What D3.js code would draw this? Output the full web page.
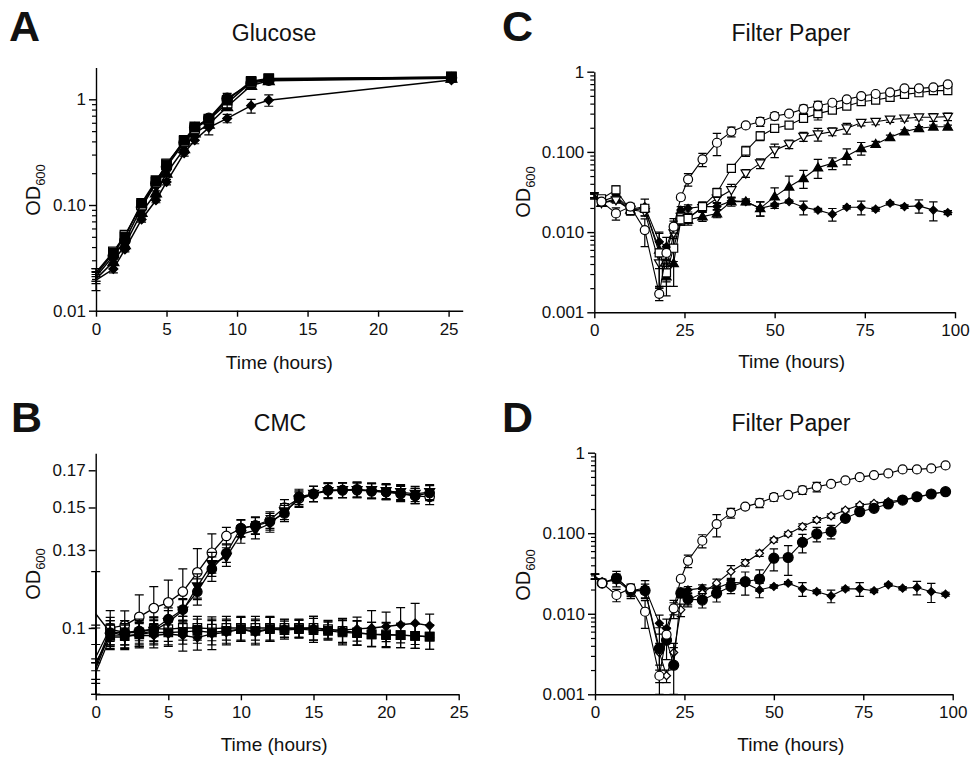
<!DOCTYPE html>
<html><head><meta charset="utf-8">
<script src="https://cdn.jsdelivr.net/npm/d3@7"></script>
<style>
body{margin:0;background:#fff}
svg{display:block}
text{font-family:"Liberation Sans",Arial,Helvetica,sans-serif;fill:#111}
</style>
</head><body>
<svg id="chart" width="971" height="757"></svg>
<script>
// ---------------- DATA ----------------
// Panel A (Glucose)
const timeA = [0, 1.23, 2.05, 3.23, 4.25, 5.0, 6.25, 7.0, 8.0, 9.3, 11.0, 12.25, 25.2];
const glcSqFilled   = [0.022, 0.035, 0.050, 0.104, 0.170, 0.240, 0.410, 0.550, 0.650, 0.980, 1.48, 1.57, 1.62];
const glcSqOpen     = [0.023, 0.036, 0.052, 0.100, 0.165, 0.245, 0.400, 0.530, 0.640, 0.920, 1.45, 1.55, 1.63];
const glcCircFilled = [0.021, 0.033, 0.046, 0.095, 0.160, 0.230, 0.390, 0.540, 0.660, 1.020, 1.42, 1.52, 1.60];
const glcTriFilled  = [0.020, 0.029, 0.042, 0.085, 0.130, 0.200, 0.340, 0.480, 0.580, 0.850, 1.35, 1.50, 1.58];
const glcDiamond    = [0.0195, 0.0248, 0.038, 0.073, 0.111, 0.165, 0.310, 0.410, 0.540, 0.660, 0.87, 0.98, 1.52];
const glcSqFilledErr = [0.003, 0.002, 0.002, 0.005, 0.010, 0.010, 0.020, 0.030, 0.040, 0.160, 0.10, 0.05, 0.05];
const glcDiamondErr  = [0.004, 0.002, 0.002, 0.004, 0.006, 0.010, 0.020, 0.030, 0.080, 0.060, 0.13, 0.12, 0.05];
const glcSmallErr    = [0.002, 0.002, 0.002, 0.004, 0.006, 0.010, 0.020, 0.030, 0.030, 0.050, 0.05, 0.05, 0.05];

// Panel B (CMC)
const timeB = [0,1,2,3,4,5,6,7,8,9,10,11,12,13,14,15,16,17,18,19,20,21,22,23];
const cmcCircOpen   = [0.0906,0.1000,0.1009,0.1038,0.1069,0.1090,0.1130,0.1206,0.1288,0.1363,0.1397,0.1413,0.1438,0.1500,0.1546,0.1570,0.1590,0.1590,0.1590,0.1585,0.1580,0.1570,0.1560,0.1555];
const cmcCircFilled = [0.0871,0.0985,0.0985,0.0990,0.0996,0.1030,0.1064,0.1130,0.1220,0.1287,0.1400,0.1410,0.1430,0.1470,0.1555,0.1570,0.1590,0.1590,0.1595,0.1585,0.1580,0.1575,0.1560,0.1575];
const cmcTriFilled  = [0.0860,0.0970,0.0970,0.0980,0.0990,0.1020,0.1060,0.1150,0.1240,0.1270,0.1370,0.1390,0.1420,0.1480,0.1540,0.1570,0.1585,0.1590,0.1590,0.1590,0.1585,0.1580,0.1570,0.1580];
const cmcDiamond    = [0.1049,0.0985,0.0975,0.0975,0.0975,0.0980,0.0975,0.0968,0.0980,0.0985,0.0996,0.0985,0.0996,0.0998,0.0998,0.1000,0.0993,0.0993,0.0997,0.1000,0.1005,0.1011,0.1016,0.1008];
const cmcSqOpen     = [0.0880,0.0996,0.0985,0.0985,0.0998,0.0996,0.1000,0.1000,0.0998,0.1000,0.1000,0.1000,0.1000,0.1000,0.1000,0.1000,0.0996,0.0990,0.0985,0.0979,0.0979,0.0976,0.0974,0.0971];
const cmcSqFilled   = [0.0890,0.0974,0.0974,0.0979,0.0985,0.0985,0.0987,0.0990,0.0985,0.0990,0.0996,0.0990,0.0996,0.0993,0.0996,0.0993,0.0990,0.0985,0.0983,0.0979,0.0976,0.0976,0.0974,0.0971];
const cmcCircOpenErr = [0.004,0.006,0.005,0.008,0.008,0.0085,0.009,0.010,0.0085,0.004,0.004,0.004,0.004,0.004,0.004,0.004,0.004,0.004,0.004,0.004,0.004,0.004,0.004,0.004];
const cmcGrowErr     = [0.003,0.004,0.004,0.004,0.004,0.004,0.004,0.005,0.005,0.004,0.004,0.004,0.004,0.004,0.004,0.004,0.004,0.004,0.004,0.004,0.004,0.004,0.004,0.004];
const cmcDiamondErr  = [0.016,0.004,0.004,0.004,0.004,0.004,0.005,0.004,0.005,0.004,0.004,0.004,0.004,0.003,0.003,0.004,0.003,0.004,0.004,0.006,0.005,0.006,0.007,0.004];
const cmcFlatErr     = [0.012,0.004,0.004,0.004,0.004,0.004,0.004,0.004,0.004,0.004,0.004,0.004,0.004,0.003,0.003,0.004,0.003,0.004,0.004,0.004,0.004,0.004,0.004,0.004];

// Panels C and D (Filter Paper)
const timeFP = [0,2,6,10,14,18,20,22,24,26,30,34,38,42,46,50,54,58,62,66,70,74,78,82,86,90,94,98];
const fpCircOpen   = [0.029,0.024,0.0171,0.0208,0.0106,0.0017,0.0055,0.0117,0.0272,0.0455,0.0807,0.130,0.179,0.214,0.238,0.280,0.300,0.343,0.377,0.410,0.452,0.497,0.527,0.553,0.620,0.620,0.638,0.695];
const fpSqOpen     = [0.029,0.026,0.0336,0.0186,0.0198,0.0055,0.0031,0.0063,0.0142,0.0148,0.0208,0.031,0.0624,0.1026,0.158,0.197,0.216,0.262,0.300,0.332,0.373,0.423,0.443,0.478,0.521,0.547,0.580,0.580];
const fpTriOpen    = [0.028,0.023,0.025,0.019,0.018,0.0041,0.0034,0.0097,0.0156,0.015,0.020,0.0263,0.0334,0.054,0.072,0.105,0.125,0.155,0.166,0.179,0.197,0.231,0.238,0.254,0.262,0.270,0.270,0.275];
const fpTriFilled  = [0.028,0.023,0.026,0.019,0.0198,0.0060,0.0028,0.0041,0.0142,0.0142,0.0156,0.0171,0.024,0.024,0.0198,0.0277,0.0368,0.047,0.0637,0.072,0.089,0.111,0.125,0.152,0.179,0.197,0.206,0.206];
const fpDiamond    = [0.029,0.024,0.028,0.0193,0.0208,0.0076,0.0066,0.0117,0.0188,0.0198,0.0208,0.0208,0.0245,0.024,0.0198,0.0218,0.024,0.0204,0.0188,0.0167,0.0204,0.0204,0.0193,0.0229,0.0208,0.0212,0.0188,0.0175];
const fpDiaOpen    = [0.029,0.025,0.026,0.019,0.0197,0.0033,0.0017,0.0033,0.0112,0.0149,0.018,0.024,0.0335,0.043,0.0565,0.0825,0.098,0.121,0.146,0.164,0.194,0.224,0.235,0.247,0.258,0.279,0.307,0.328];
const fpCircFilled = [0.029,0.024,0.0276,0.0194,0.0194,0.0037,0.0047,0.0023,0.018,0.0152,0.0148,0.018,0.0218,0.025,0.027,0.049,0.050,0.077,0.098,0.105,0.153,0.185,0.204,0.231,0.258,0.284,0.307,0.328];
const fpCircOpenErr   = [0.002,0.002,0.003,0.002,0.004,0.0003,0.001,0.002,0.002,0.008,0.015,0.040,0.025,0.012,0.030,0.030,0.010,0.040,0.050,0.020,0.020,0.030,0.020,0.020,0.030,0.030,0.030,0.030];
const fpSqOpenErr     = [0.002,0.002,0.004,0.002,0.002,0.002,0.001,0.002,0.002,0.002,0.003,0.004,0.005,0.015,0.020,0.020,0.020,0.020,0.050,0.030,0.030,0.030,0.030,0.030,0.030,0.030,0.030,0.030];
const fpTriOpenErr    = [0.002,0.002,0.002,0.002,0.002,0.002,0.001,0.003,0.002,0.002,0.002,0.003,0.006,0.006,0.010,0.020,0.015,0.020,0.030,0.020,0.030,0.020,0.020,0.020,0.020,0.020,0.030,0.030];
const fpTriFilledErr  = [0.002,0.002,0.002,0.002,0.002,0.004,0.0012,0.002,0.002,0.002,0.002,0.002,0.003,0.002,0.004,0.008,0.013,0.012,0.017,0.012,0.020,0.020,0.010,0.010,0.010,0.010,0.010,0.010];
const fpDiamondErr    = [0.002,0.002,0.003,0.003,0.005,0.002,0.002,0.003,0.002,0.002,0.002,0.002,0.002,0.001,0.004,0.001,0.001,0.004,0.001,0.003,0.001,0.004,0.001,0.001,0.001,0.004,0.005,0.001];
const fpDiaOpenErr    = [0.002,0.002,0.002,0.002,0.002,0.001,0.0003,0.001,0.002,0.002,0.002,0.003,0.006,0.004,0.005,0.005,0.006,0.010,0.010,0.010,0.010,0.010,0.010,0.010,0.010,0.010,0.010,0.010];
const fpCircFilledErr = [0.002,0.002,0.006,0.004,0.004,0.003,0.002,0.0015,0.002,0.003,0.003,0.004,0.004,0.008,0.008,0.015,0.020,0.020,0.020,0.020,0.010,0.010,0.010,0.010,0.010,0.010,0.010,0.010];

// Tick values / labels
const ticksAx = [0,5,10,15,20,25];
const ticksAy = [0.01,0.1,1];
const labelsAy = ["0.01","0.10","1"];
const ticksBx = [0,5,10,15,20,25];
const ticksBy = [0.1,0.13,0.15,0.17];
const labelsBy = ["0.1","0.13","0.15","0.17"];
const ticksFPx = [0,25,50,75,100];
const ticksFPy = [0.001,0.01,0.1,1];
const labelsFPy = ["0.001","0.010","0.100","1"];

// ---------------- DRAWING ----------------
const svg = d3.select("#chart");

function markerPath(shape, s) {
  const h = s / 2;
  switch (shape) {
    case "circle": { const p = d3.path(); p.moveTo(h, 0); p.arc(0, 0, h, 0, 2 * Math.PI); p.closePath(); return p.toString(); }
    case "square": return `M${-h*0.9},${-h*0.9}H${h*0.9}V${h*0.9}H${-h*0.9}Z`;
    case "triUp": return `M0,${-h*1.05}L${h*1.05},${h*0.75}L${-h*1.05},${h*0.75}Z`;
    case "triDown": return `M0,${h*1.05}L${h*1.05},${-h*0.75}L${-h*1.05},${-h*0.75}Z`;
    case "diamond": return `M0,${-h}L${h},0L0,${h}L${-h},0Z`;
  }
}

function panel(cfg) {
  const g = svg.append("g");
  const x = d3.scaleLinear().domain(cfg.xDomain).range([cfg.left, cfg.right]);
  const y = d3.scaleLog().domain(cfg.yDomain).range([cfg.bottom, cfg.top]);

  // axes
  const xAxis = d3.axisBottom(x).tickValues(cfg.xTicks).tickSize(6).tickSizeOuter(0).tickPadding(6).tickFormat(d3.format("d"));
  const gx = g.append("g").attr("transform", `translate(0,${cfg.bottom})`).call(xAxis);
  const yAxis = d3.axisLeft(y).tickValues(cfg.yTicks).tickSize(7).tickSizeOuter(0).tickPadding(3)
      .tickFormat((d, i) => cfg.yLabels[i]);
  const gy = g.append("g").attr("transform", `translate(${cfg.left},0)`).call(yAxis);
  if (cfg.minor) {
    const mins = [];
    const lo = Math.floor(Math.log10(cfg.yDomain[0])), hi = Math.ceil(Math.log10(cfg.yDomain[1]));
    for (let e = lo; e <= hi; e++) for (let m = 2; m <= 9; m++) {
      const v = m * Math.pow(10, e);
      if (v > cfg.yDomain[0] * 1.0001 && v < cfg.yDomain[1] * 0.9999) mins.push(v);
    }
    const gm = g.append("g").attr("transform", `translate(${cfg.left},0)`)
      .call(d3.axisLeft(y).tickValues(mins).tickSize(4).tickFormat(""));
    gm.select(".domain").remove();
    gm.selectAll("line").attr("stroke-width", 1.2);
  }
  [gx, gy].forEach(a => {
    a.select(".domain").attr("stroke-width", 1.4).attr("stroke", "#000");
    a.selectAll(".tick line").attr("stroke-width", 1.4);
    a.selectAll("text").attr("font-size", 17).attr("font-family", '"Liberation Sans",Arial,sans-serif').attr("fill", "#111");
  });

  // series
  cfg.series.forEach(s => {
    const sg = g.append("g");
    const pts = s.t.map((t, i) => ({t, v: s.v[i], e: s.e ? s.e[i] : 0}));
    // error bars
    pts.forEach(p => {
      if (!p.e) return;
      const yHi = y(p.v + p.e);
      const lowVal = Math.max(p.v - p.e, cfg.yDomain[0]);
      const yLo = y(lowVal);
      const cx = x(p.t), cw = cfg.cap;
      sg.append("path")
        .attr("d", `M${cx},${yHi}V${yLo}M${cx-cw},${yHi}H${cx+cw}M${cx-cw},${yLo}H${cx+cw}`)
        .attr("stroke", "#000").attr("stroke-width", 1.2).attr("fill", "none");
    });
    // line
    sg.append("path").datum(pts)
      .attr("d", d3.line().x(p => x(p.t)).y(p => y(p.v)))
      .attr("fill", "none").attr("stroke", "#000").attr("stroke-width", cfg.lw);
    // markers (points sitting on the y axis at t=0 show no symbol in the original)
    sg.selectAll(".m").data(pts.filter(p => p.t > 0)).join("path")
      .attr("transform", p => `translate(${x(p.t)},${y(p.v)})`)
      .attr("d", markerPath(s.shape, s.size || cfg.msize))
      .attr("fill", s.filled ? "#000" : "#fff")
      .attr("stroke", "#000").attr("stroke-width", 1.2);
  });

  // texts
  g.append("text").attr("x", cfg.letterX).attr("y", cfg.letterY)
    .attr("font-size", 43).attr("font-weight", "bold").attr("fill", "#000").text(cfg.letter);
  g.append("text").attr("x", cfg.titleX).attr("y", cfg.titleY).attr("text-anchor", "middle")
    .attr("font-size", 23).text(cfg.title);
  g.append("text").attr("x", (cfg.left + cfg.right) / 2 + cfg.xlabDx).attr("y", cfg.xlabY).attr("text-anchor", "middle")
    .attr("font-size", 19).text("Time (hours)");
  const yl = g.append("text").attr("transform", `translate(${cfg.ylabX},${cfg.ylabY}) rotate(-90)`)
    .attr("text-anchor", "middle").attr("font-size", 20);
  yl.append("tspan").text("OD");
  yl.append("tspan").attr("font-size", 13).attr("dy", 5).text("600");
}

// Panel A
panel({
  left: 96, right: 462.7, top: 67.5, bottom: 310.7,
  xDomain: [0, 26], yDomain: [0.01, 2], xTicks: ticksAx, yTicks: ticksAy, yLabels: labelsAy, minor: true,
  cap: 4.5, lw: 1.5, msize: 10.5,
  letter: "A", letterX: 9, letterY: 41, title: "Glucose", titleX: 274, titleY: 41,
  xlabY: 369, xlabDx: 0, ylabX: 40, ylabY: 190,
  series: [
    {t: timeA, v: glcDiamond, e: glcDiamondErr, shape: "diamond", filled: true, size: 9},
    {t: timeA, v: glcTriFilled, e: glcSmallErr, shape: "triUp", filled: true},
    {t: timeA, v: glcCircFilled, e: glcSmallErr, shape: "circle", filled: true},
    {t: timeA, v: glcSqOpen, e: glcSmallErr, shape: "square", filled: false},
    {t: timeA, v: glcSqFilled, e: glcSqFilledErr, shape: "square", filled: true}
  ]
});

// Panel B
panel({
  left: 95.7, right: 458.7, top: 453.3, bottom: 694.3,
  xDomain: [0, 25], yDomain: [0.08, 0.18], xTicks: ticksBx, yTicks: ticksBy, yLabels: labelsBy, minor: false,
  cap: 4.5, lw: 1.3, msize: 9.5,
  letter: "B", letterX: 11, letterY: 432, title: "CMC", titleX: 280, titleY: 431,
  xlabY: 751, xlabDx: -3, ylabX: 40, ylabY: 574,
  series: [
    {t: timeB, v: cmcCircOpen, e: cmcCircOpenErr, shape: "circle", filled: false},
    {t: timeB, v: cmcSqOpen, e: cmcFlatErr, shape: "square", filled: false},
    {t: timeB, v: cmcDiamond, e: cmcDiamondErr, shape: "diamond", filled: true, size: 8.5},
    {t: timeB, v: cmcSqFilled, e: cmcFlatErr, shape: "square", filled: true},
    {t: timeB, v: cmcTriFilled, e: cmcGrowErr, shape: "triDown", filled: true},
    {t: timeB, v: cmcCircFilled, e: cmcGrowErr, shape: "circle", filled: true}
  ]
});

// Panel C
panel({
  left: 594.3, right: 955, top: 71.7, bottom: 312.3,
  xDomain: [0, 100], yDomain: [0.001, 1], xTicks: ticksFPx, yTicks: ticksFPy, yLabels: labelsFPy, minor: true,
  cap: 4.2, lw: 1.1, msize: 9,
  letter: "C", letterX: 502, letterY: 41, title: "Filter Paper", titleX: 791, titleY: 41,
  xlabY: 367.5, xlabDx: 17, ylabX: 530, ylabY: 192,
  series: [
    {t: timeFP, v: fpDiamond, e: fpDiamondErr, shape: "diamond", filled: true, size: 8},
    {t: timeFP, v: fpTriFilled, e: fpTriFilledErr, shape: "triUp", filled: true},
    {t: timeFP, v: fpTriOpen, e: fpTriOpenErr, shape: "triDown", filled: false},
    {t: timeFP, v: fpSqOpen, e: fpSqOpenErr, shape: "square", filled: false},
    {t: timeFP, v: fpCircOpen, e: fpCircOpenErr, shape: "circle", filled: false}
  ]
});

// Panel D
panel({
  left: 595, right: 952.7, top: 452.7, bottom: 694.3,
  xDomain: [0, 100], yDomain: [0.001, 1], xTicks: ticksFPx, yTicks: ticksFPy, yLabels: labelsFPy, minor: true,
  cap: 4.2, lw: 1.1, msize: 9,
  letter: "D", letterX: 502, letterY: 432, title: "Filter Paper", titleX: 791, titleY: 431,
  xlabY: 751, xlabDx: 17, ylabX: 530, ylabY: 575,
  series: [
    {t: timeFP, v: fpDiamond, e: fpDiamondErr, shape: "diamond", filled: true, size: 8},
    {t: timeFP, v: fpDiaOpen, e: fpDiaOpenErr, shape: "diamond", filled: false, size: 8},
    {t: timeFP, v: fpCircFilled, e: fpCircFilledErr, shape: "circle", filled: true, size: 10},
    {t: timeFP, v: fpCircOpen, e: fpCircOpenErr, shape: "circle", filled: false}
  ]
});
</script>
</body></html>
